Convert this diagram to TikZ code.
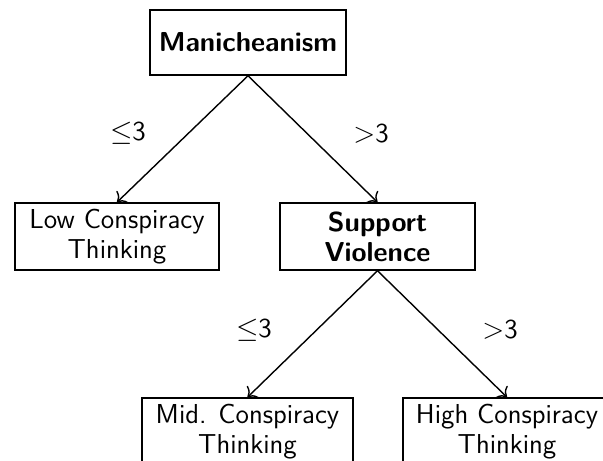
\documentclass[tikz,border=0pt]{standalone}
\usepackage{tikz}
\usetikzlibrary{positioning,arrows.meta}
\tikzset{box/.style={draw, align=center, inner sep=2pt, minimum height=33.5pt, line width=0.75pt},
  lbl/.style={inner sep=0pt},
  edge/.style={-{To[scale=1.3]}, line width=0.7pt}}

\begin{document}
\begin{tikzpicture}[x=0.5pt, y=-0.5pt, font=\sffamily\fontsize{13.7}{15}\selectfont]
\useasboundingbox (0,0) rectangle (603,460);
\node[box, minimum width=98pt, minimum height=32.5pt] (man) at (248,42.5) {\textbf{Manicheanism}};
\node[box, minimum width=102pt] (low) at (117,236.5) {Low Conspiracy\\Thinking};
\node[box, minimum width=97.5pt] (sup) at (377.5,236.5) {\textbf{Support}\\\textbf{Violence}};
\node[box, minimum width=105.5pt] (mid) at (247.5,431.5) {Mid. Conspiracy\\Thinking};
\node[box, minimum width=104pt] (high) at (507,431.5) {High Conspiracy\\Thinking};
\draw[edge] (man.south) -- (low.north);
\draw[edge] (man.south) -- (sup.north);
\draw[edge] (sup.south) -- (mid.north);
\draw[edge] (sup.south) -- (high.north);
\node[lbl] (le1) at (128,133) {$\leq$3};
\node[lbl] (gt1) at (371,134) {$>$3};
\node[lbl] (le2) at (254,330) {$\leq$3};
\node[lbl] (gt2) at (500,330) {$>$3};
\end{tikzpicture}
\end{document}
